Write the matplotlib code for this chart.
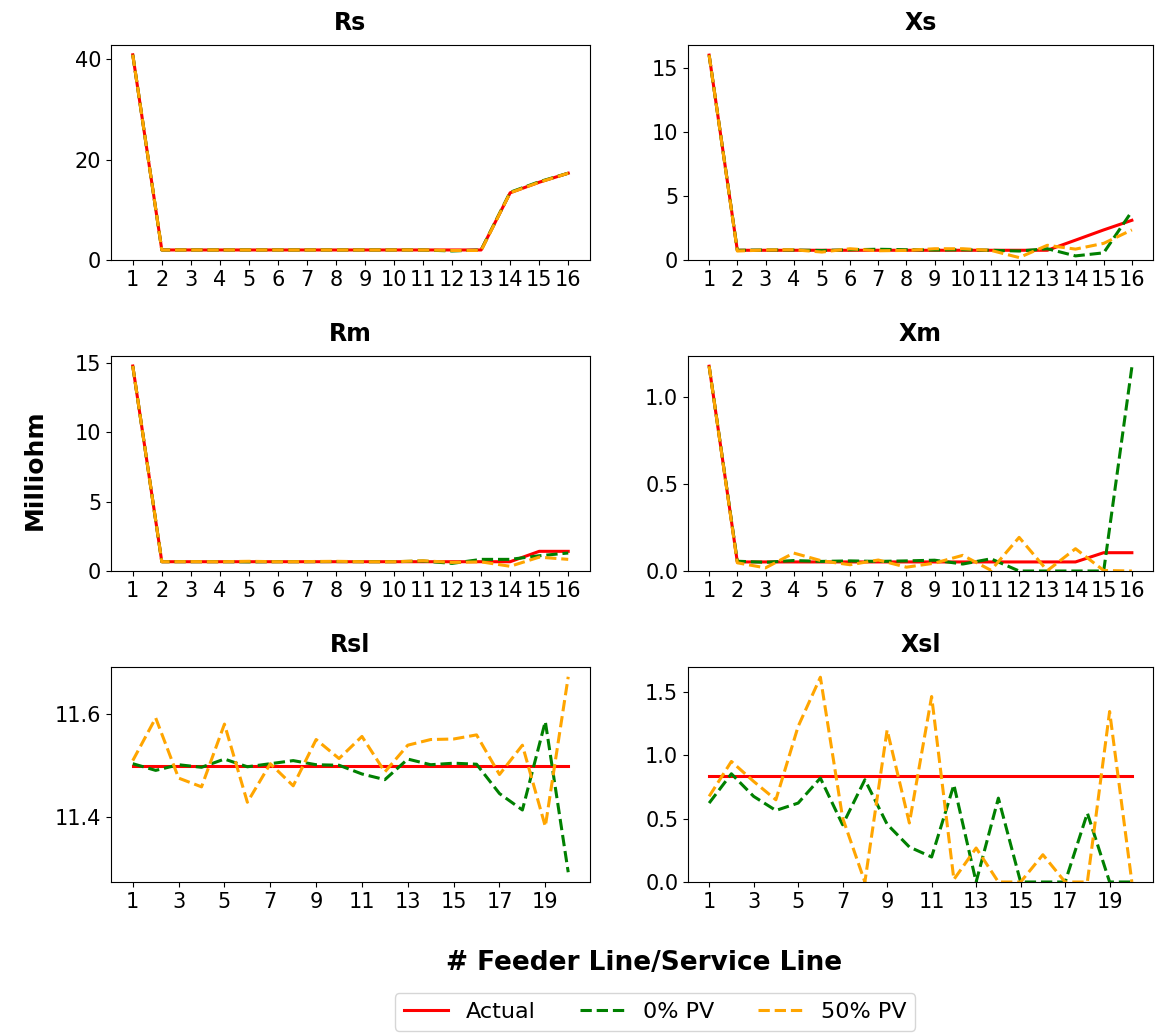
import numpy as np
import matplotlib
matplotlib.use("Agg")
import matplotlib.pyplot as plt

# ---- feeder line parameters (16 lines) ----
feeder_idx = list(range(1, 17))

rs_actual = [40.9, 2.0, 2.0, 2.0, 2.0, 2.0, 2.0, 2.0, 2.0, 2.0, 2.0, 2.0, 2.0, 13.4, 15.5, 17.3]
rs_pv0 = [40.9, 2.0, 2.0, 2.0, 2.0, 2.0, 2.0, 2.0, 2.0, 2.0, 2.0, 1.8, 2.0, 13.5, 15.6, 17.3]
rs_pv50 = [40.9, 2.0, 2.0, 2.0, 2.0, 2.0, 2.0, 2.0, 2.0, 2.0, 2.0, 1.9, 1.9, 13.4, 15.5, 17.3]

xs_actual = [16.0, 0.76, 0.76, 0.76, 0.76, 0.76, 0.76, 0.76, 0.76, 0.76, 0.76, 0.76, 0.76, 1.55, 2.35, 3.1]
xs_pv0 = [16.0, 0.76, 0.78, 0.78, 0.74, 0.8, 0.84, 0.8, 0.78, 0.8, 0.76, 0.7, 0.88, 0.32, 0.56, 3.8]
xs_pv50 = [16.0, 0.7, 0.78, 0.8, 0.62, 0.88, 0.72, 0.75, 0.88, 0.88, 0.75, 0.19, 1.15, 0.85, 1.3, 2.35]

rm_actual = [14.8, 0.67, 0.67, 0.67, 0.67, 0.67, 0.67, 0.67, 0.67, 0.67, 0.67, 0.67, 0.67, 0.67, 1.42, 1.42]
rm_pv0 = [14.8, 0.67, 0.67, 0.67, 0.66, 0.67, 0.67, 0.68, 0.67, 0.67, 0.72, 0.55, 0.84, 0.84, 1.1, 1.3]
rm_pv50 = [14.8, 0.67, 0.68, 0.67, 0.7, 0.67, 0.68, 0.7, 0.67, 0.67, 0.74, 0.62, 0.66, 0.34, 1.0, 0.84]

xm_actual = [1.175, 0.052, 0.052, 0.052, 0.052, 0.052, 0.052, 0.052, 0.052, 0.052, 0.052, 0.052, 0.052, 0.052, 0.105, 0.105]
xm_pv0 = [1.175, 0.056, 0.05, 0.06, 0.055, 0.058, 0.055, 0.058, 0.062, 0.04, 0.07, 0.0, 0.0, 0.0, 0.0, 1.17]
xm_pv50 = [1.175, 0.047, 0.018, 0.103, 0.058, 0.036, 0.063, 0.022, 0.045, 0.09, 0.004, 0.193, 0.002, 0.128, 0.003, 0.0]

# ---- service line parameters (20 lines) ----
service_idx = list(range(1, 21))

rsl_actual = [11.5] * 20
rsl_pv0 = [11.504, 11.491, 11.502, 11.497, 11.513, 11.498, 11.504, 11.510, 11.502, 11.501,
           11.484, 11.473, 11.513, 11.502, 11.505, 11.503, 11.446, 11.414, 11.586, 11.293]
rsl_pv50 = [11.510, 11.593, 11.476, 11.459, 11.581, 11.429, 11.504, 11.461, 11.551, 11.514,
            11.557, 11.488, 11.540, 11.551, 11.552, 11.560, 11.483, 11.540, 11.382, 11.673]

xsl_actual = [0.832] * 20
xsl_pv0 = [0.622, 0.853, 0.675, 0.564, 0.622, 0.819, 0.451, 0.806, 0.455, 0.276,
           0.197, 0.766, 0.0, 0.661, 0.0, 0.0, 0.0, 0.543, 0.0, 0.0]
xsl_pv50 = [0.675, 0.950, 0.793, 0.648, 1.226, 1.614, 0.505, 0.0, 1.199, 0.465,
            1.462, 0.02, 0.268, 0.0, 0.0, 0.215, 0.0, 0.0, 1.344, 0.0]

# y tick values per panel
rs_yticks = [0, 20, 40]
xs_yticks = [0, 5, 10, 15]
rm_yticks = [0, 5, 10, 15]
xm_yticks = [0.0, 0.5, 1.0]
rsl_yticks = [11.4, 11.6]
xsl_yticks = [0.0, 0.5, 1.0, 1.5]

series_labels = ["Actual", "0% PV", "50% PV"]
colors = ["red", "green", "orange"]
styles = ["-", "--", "--"]

panels = [
    ("Rs", feeder_idx, (rs_actual, rs_pv0, rs_pv50), rs_yticks, "{:.0f}", True),
    ("Xs", feeder_idx, (xs_actual, xs_pv0, xs_pv50), xs_yticks, "{:.0f}", True),
    ("Rm", feeder_idx, (rm_actual, rm_pv0, rm_pv50), rm_yticks, "{:.0f}", True),
    ("Xm", feeder_idx, (xm_actual, xm_pv0, xm_pv50), xm_yticks, "{:.1f}", True),
    ("Rsl", service_idx, (rsl_actual, rsl_pv0, rsl_pv50), rsl_yticks, "{:.1f}", False),
    ("Xsl", service_idx, (xsl_actual, xsl_pv0, xsl_pv50), xsl_yticks, "{:.1f}", True),
]

W, H = 1176, 1034
fig = plt.figure(figsize=(W / 100, H / 100), dpi=100)

# axes boxes in pixels: (left, right) per column, (top, bottom) per row
col_x = [(111, 590), (688, 1153)]
row_y = [(45, 260), (356, 571), (667, 882)]

handles = None
for k, (title, xs, data, yticks, yfmt, zero_floor) in enumerate(panels):
    r, c = divmod(k, 2)
    x0, x1 = col_x[c]
    y0, y1 = row_y[r]
    ax = fig.add_axes([x0 / W, 1 - y1 / H, (x1 - x0) / W, (y1 - y0) / H])
    lines = []
    for vals, lab, col, ls in zip(data, series_labels, colors, styles):
        ln, = ax.plot(xs, vals, color=col, linestyle=ls, linewidth=2.2, label=lab)
        lines.append(ln)
    handles = lines
    if zero_floor:
        ax.set_ylim(bottom=0)
    if len(xs) == 16:
        ax.set_xticks(xs)
    else:
        ax.set_xticks(xs[::2])
    ax.set_yticks(yticks)
    ax.set_yticklabels([yfmt.format(v) for v in yticks])
    ax.tick_params(labelsize=15)
    ax.set_title(title, fontsize=17, fontweight="bold", pad=11)

fig.text(35 / W, 1 - 470 / H, "Milliohm", rotation=90, fontsize=18,
         fontweight="bold", ha="center", va="center")
fig.text(644 / W, 1 - 963 / H, "# Feeder Line/Service Line", fontsize=19,
         fontweight="bold", ha="center", va="center")
fig.legend(handles, series_labels, loc="center", ncol=3, fontsize=16,
           bbox_to_anchor=(655 / W, 1 - 1012 / H))

fig.savefig("out.png", dpi=100)
